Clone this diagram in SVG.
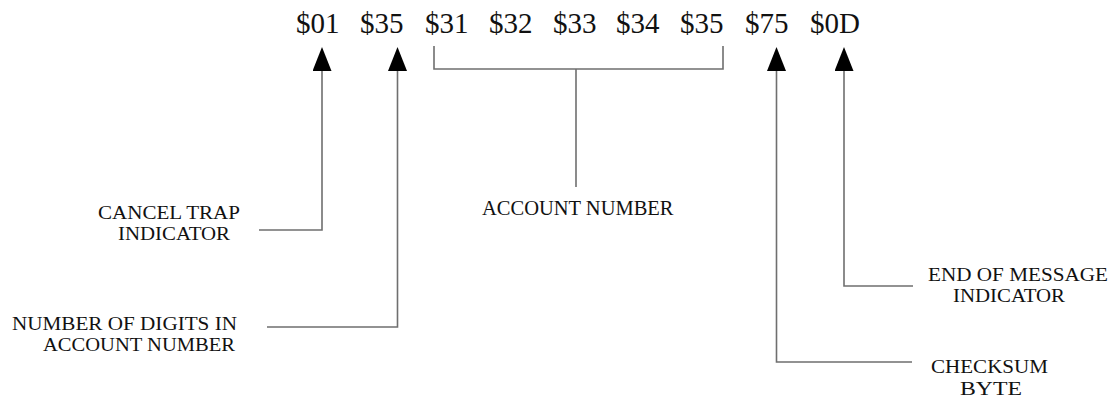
<svg xmlns="http://www.w3.org/2000/svg" width="1115" height="402" viewBox="0 0 1115 402">
<style>
.hex{font-family:"Liberation Serif","Times New Roman",serif;font-size:29px;fill:#111}
.lbl{font-family:"Liberation Serif","Times New Roman",serif;font-size:20.5px;fill:#111}
.lbl2{font-family:"Liberation Serif","Times New Roman",serif;font-size:19px;fill:#111}
.conn{fill:none;stroke:#6f6f6f;stroke-width:1.6}
</style>
<defs>
<marker id="arrow" markerUnits="userSpaceOnUse" viewBox="0 0 24 19" refX="0" refY="9.5" markerWidth="24" markerHeight="19" orient="auto">
<path d="M0,0 L24,9.5 L0,19 z" fill="#000"/>
</marker>
</defs>
<rect width="1115" height="402" fill="#fff"/>
<g id="bytes">
<text class="hex" x="296" y="33">$01</text>
<text class="hex" x="360" y="33">$35</text>
<text class="hex" x="425" y="33">$31</text>
<text class="hex" x="489" y="33">$32</text>
<text class="hex" x="553" y="33">$33</text>
<text class="hex" x="616" y="33">$34</text>
<text class="hex" x="680" y="33">$35</text>
<text class="hex" x="745" y="33">$75</text>
<text class="hex" x="810" y="33">$0D</text>
</g>
<g id="connectors">
<path class="conn" d="M259,230 H322 V71" marker-end="url(#arrow)"/>
<path class="conn" d="M267,327 H397.5 V71" marker-end="url(#arrow)"/>
<path class="conn" d="M912,362 H776.5 V71" marker-end="url(#arrow)"/>
<path class="conn" d="M913,286 H844 V71" marker-end="url(#arrow)"/>
<path class="conn" d="M434,46 V69 H723 V46"/>
<path class="conn" d="M576,69 V187"/>
</g>
<g id="cancel-trap">
<text class="lbl2" x="98" y="218.5" textLength="142" lengthAdjust="spacingAndGlyphs">CANCEL TRAP</text>
<text class="lbl2" x="118" y="239.5" textLength="112" lengthAdjust="spacingAndGlyphs">INDICATOR</text>
</g>
<g id="digits">
<text class="lbl2" x="12" y="330" textLength="225" lengthAdjust="spacingAndGlyphs">NUMBER OF DIGITS IN</text>
<text class="lbl2" x="43" y="351" textLength="192" lengthAdjust="spacingAndGlyphs">ACCOUNT NUMBER</text>
</g>
<g id="account-number">
<text class="lbl" x="482" y="215">ACCOUNT NUMBER</text>
</g>
<g id="end-of-message">
<text class="lbl2" x="928" y="280.5" textLength="180" lengthAdjust="spacingAndGlyphs">END OF MESSAGE</text>
<text class="lbl2" x="953" y="301.5" textLength="112" lengthAdjust="spacingAndGlyphs">INDICATOR</text>
</g>
<g id="checksum">
<text class="lbl2" x="931" y="373" textLength="117" lengthAdjust="spacingAndGlyphs">CHECKSUM</text>
<text class="lbl2" x="960" y="395" textLength="62" lengthAdjust="spacingAndGlyphs">BYTE</text>
</g>
</svg>
